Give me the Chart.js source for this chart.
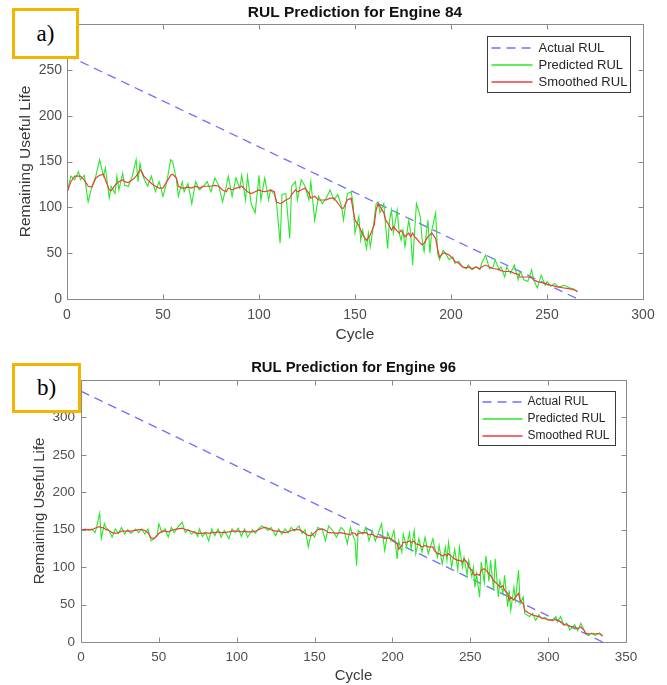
<!DOCTYPE html>
<html>
<head>
<meta charset="utf-8">
<title>RUL Prediction</title>
<script src="https://cdn.jsdelivr.net/npm/chart.js@4.4.1/dist/chart.umd.min.js"></script>
<style>
  html, body { margin: 0; padding: 0; background: #fff; }
  body { width: 667px; height: 685px; position: relative; overflow: hidden; }
  .panel { position: absolute; left: 0; width: 667px; }
  #panelA { top: 0; height: 345px; }
  #panelB { top: 345px; height: 340px; }
  .tag { position: absolute; box-sizing: border-box; border: 3px solid #f4b400; background: #fff;
         font-family: "Liberation Serif", "Times New Roman", serif; font-size: 23px; color: #000;
         display: flex; align-items: center; justify-content: center; }
  #tagA { left: 12px; top: 8px; width: 67px; height: 51px; }
  #tagB { left: 12px; top: 363px; width: 69px; height: 50px; }
</style>
</head>
<body>
<div class="panel" id="panelA"><canvas id="chart84"></canvas></div>
<div class="panel" id="panelB"><canvas id="chart96"></canvas></div>
<div class="tag" id="tagA">a)</div>
<div class="tag" id="tagB">b)</div>
<script>
// engine 84
var cycles84 = [
  0, 2, 4, 6, 7, 9, 11, 13, 15, 17,
  19, 20, 22, 23, 25, 26, 27, 29, 30, 32,
  34, 36, 37, 38, 39, 40, 42, 44, 46, 48,
  50, 52, 54, 55, 57, 58, 60, 61, 63, 65,
  67, 69, 71, 73, 75, 77, 79, 81, 83, 84,
  86, 88, 90, 91, 93, 94, 96, 98, 100, 101,
  103, 105, 106, 108, 109, 111, 112, 114, 116, 117,
  119, 120, 122, 124, 126, 127, 129, 131, 133, 135,
  137, 139, 141, 143, 144, 146, 148, 149, 150, 152,
  153, 154, 156, 157, 158, 160, 161, 162, 163, 165,
  166, 167, 168, 169, 170, 172, 173, 174, 175, 176,
  178, 179, 180, 181, 182, 184, 185, 186, 188, 189,
  190, 192, 193, 194, 196, 197, 199, 201, 202, 204,
  206, 208, 209, 211, 213, 215, 216, 218, 220, 222,
  223, 225, 226, 228, 229, 231, 233, 235, 236, 238,
  240, 242, 243, 245, 247, 249, 250, 252, 254, 256,
  259, 262, 264, 266
];
var predicted84 = [
  116, 134, 130, 139, 130, 135, 106, 123, 134, 152,
  134, 143, 110, 123, 115, 134, 119, 137, 124, 123,
  134, 152, 128, 148, 137, 132, 123, 134, 117, 128,
  112, 128, 152, 150, 130, 112, 128, 117, 126, 104,
  128, 119, 123, 128, 117, 132, 124, 106, 123, 134,
  112, 132, 121, 135, 108, 134, 103, 94, 135, 108,
  132, 108, 119, 114, 108, 61, 114, 115, 66, 123,
  128, 108, 130, 123, 108, 128, 86, 112, 104, 110,
  119, 108, 114, 101, 86, 115, 117, 104, 72, 90,
  64, 75, 55, 72, 57, 86, 104, 106, 94, 104,
  79, 55, 86, 97, 72, 97, 72, 64, 75, 57,
  86, 72, 37, 72, 104, 90, 64, 52, 86, 50,
  75, 94, 50, 43, 53, 50, 43, 46, 39, 41,
  35, 33, 37, 32, 35, 32, 39, 48, 33, 35,
  43, 32, 35, 24, 35, 28, 37, 21, 30, 21,
  19, 32, 21, 12, 26, 15, 19, 14, 17, 13,
  15, 12, 11, 8
];
var smoothed84 = [
  116, 128, 134, 134, 134, 130, 123, 122, 132, 135,
  136, 130, 119, 118, 124, 126, 128, 130, 128, 127,
  130, 134, 137, 141, 139, 134, 130, 126, 123, 121,
  121, 128, 135, 136, 132, 123, 121, 121, 122, 121,
  123, 121, 123, 123, 123, 124, 123, 119, 117, 121,
  119, 121, 122, 123, 119, 117, 115, 117, 119, 118,
  117, 118, 119, 117, 106, 104, 105, 108, 110, 114,
  119, 117, 119, 121, 115, 110, 112, 108, 108, 108,
  110, 110, 105, 99, 99, 108, 110, 97, 86, 80,
  75, 70, 64, 67, 70, 81, 97, 104, 101, 94,
  86, 83, 79, 75, 79, 74, 72, 75, 72, 68,
  72, 68, 72, 68, 66, 61, 59, 61, 68, 70,
  72, 66, 55, 46, 50, 50, 48, 44, 41, 39,
  35, 34, 35, 33, 35, 33, 35, 37, 35, 33,
  33, 32, 31, 30, 30, 30, 28, 27, 24, 24,
  24, 23, 21, 19, 18, 17, 16, 15, 14, 13,
  12, 11, 10, 8
];
var actualCycles84 = [0, 266];
var actual84 = [266, 0];

// engine 96
var cycles96 = [
  0, 3, 5, 7, 9, 10, 12, 13, 15, 16,
  18, 20, 22, 24, 26, 28, 30, 32, 35, 37,
  39, 41, 43, 45, 47, 49, 50, 52, 54, 56,
  58, 60, 62, 65, 67, 69, 71, 73, 75, 76,
  78, 80, 82, 84, 86, 88, 90, 92, 95, 97,
  99, 101, 103, 105, 107, 110, 112, 114, 116, 118,
  120, 122, 125, 127, 129, 131, 133, 135, 137, 140,
  142, 144, 146, 148, 150, 152, 155, 157, 159, 162,
  164, 167, 169, 171, 173, 174, 176, 177, 178, 181,
  183, 185, 187, 189, 191, 193, 195, 197, 199, 201,
  203, 204, 206, 207, 209, 211, 212, 214, 215, 217,
  219, 221, 223, 226, 227, 229, 230, 232, 234, 235,
  236, 238, 240, 242, 243, 245, 246, 248, 249, 251,
  252, 253, 254, 256, 257, 259, 260, 262, 263, 265,
  266, 268, 269, 271, 272, 274, 275, 276, 278, 279,
  281, 282, 284, 285, 288, 290, 292, 294, 296, 298,
  300, 303, 305, 306, 308, 310, 312, 314, 317, 319,
  321, 323, 324, 326, 328, 330, 333, 335
];
var predicted96 = [
  150, 151, 149, 151, 146, 153, 172, 138, 158, 153,
  149, 140, 151, 145, 153, 144, 150, 145, 151, 146,
  151, 144, 151, 135, 138, 144, 158, 146, 151, 140,
  153, 146, 153, 160, 146, 150, 144, 148, 141, 151,
  141, 146, 135, 151, 142, 151, 140, 149, 138, 151,
  146, 152, 141, 151, 140, 150, 145, 151, 155, 153,
  149, 153, 142, 151, 144, 151, 146, 153, 148, 155,
  145, 150, 127, 146, 140, 153, 150, 135, 155, 148,
  140, 153, 149, 131, 153, 146, 135, 102, 149, 144,
  153, 135, 149, 135, 146, 158, 122, 146, 135, 149,
  111, 135, 120, 144, 127, 146, 124, 149, 118, 138,
  120, 140, 118, 138, 127, 113, 129, 104, 127, 109,
  133, 100, 124, 96, 127, 100, 113, 89, 109, 87,
  100, 73, 91, 60, 107, 79, 115, 81, 109, 69,
  111, 60, 82, 65, 89, 47, 69, 42, 73, 56,
  96, 51, 60, 38, 34, 38, 29, 36, 31, 33,
  29, 30, 34, 27, 34, 23, 25, 16, 23, 15,
  25, 16, 12, 9, 12, 9, 12, 8
];
var smoothed96 = [
  150, 150, 150, 150, 152, 153, 154, 153, 152, 150,
  149, 146, 145, 146, 148, 148, 148, 148, 149, 150,
  150, 149, 146, 139, 138, 142, 145, 148, 148, 147,
  149, 150, 151, 152, 150, 149, 148, 146, 145, 145,
  145, 146, 145, 146, 146, 147, 146, 146, 147, 148,
  148, 148, 147, 148, 147, 147, 148, 150, 152, 153,
  152, 150, 148, 148, 147, 146, 147, 149, 150, 150,
  148, 145, 142, 142, 146, 150, 151, 149, 146, 146,
  145, 146, 145, 144, 143, 146, 145, 142, 145, 146,
  146, 143, 144, 141, 140, 140, 138, 139, 138, 135,
  131, 124, 129, 133, 133, 135, 133, 135, 131, 130,
  127, 129, 127, 127, 122, 118, 118, 115, 117, 115,
  118, 114, 111, 109, 109, 107, 111, 106, 100, 96,
  91, 89, 91, 89, 96, 98, 96, 91, 89, 82,
  80, 76, 73, 75, 69, 65, 56, 60, 56, 60,
  65, 56, 51, 42, 38, 36, 35, 34, 32, 31,
  30, 29, 30, 29, 27, 23, 23, 21, 20, 18,
  20, 16, 12, 11, 11, 11, 11, 8
];
var actualCycles96 = [0, 335];
var actual96 = [335, 0];

var sans = '"Liberation Sans", Arial, sans-serif';
var tickColor = '#505050';
var colActual = 'rgb(112,112,255)';
var colPredicted = 'rgb(40,232,40)';
var colSmoothed = 'rgb(240,60,60)';

function points(xs, ys) {
    return xs.map(function (c, i) { return { x: c, y: ys[i] }; });
}

// boxed axes with inward ticks on all four sides, plus the legend box
var axesBox = {
    id: 'axesBox',
    afterDraw: function (chart, args, o) {
        var ctx = chart.ctx, a = chart.chartArea;
        var xs = chart.scales.x, ys = chart.scales.y;
        var l = Math.round(a.left) + 0.5, r = Math.round(a.right) + 0.5;
        var t = Math.round(a.top) + 0.5, b = Math.round(a.bottom) + 0.5;
        ctx.save();
        ctx.strokeStyle = '#8a8a8a';
        ctx.lineWidth = 1;
        ctx.beginPath();
        ctx.rect(l, t, r - l, b - t);
        xs.ticks.forEach(function (tk) {
            var px = Math.round(xs.getPixelForValue(tk.value)) + 0.5;
            ctx.moveTo(px, b); ctx.lineTo(px, b - 5);
            ctx.moveTo(px, t); ctx.lineTo(px, t + 5);
        });
        ys.ticks.forEach(function (tk) {
            var py = Math.round(ys.getPixelForValue(tk.value)) + 0.5;
            ctx.moveTo(l, py); ctx.lineTo(l + 5, py);
            ctx.moveTo(r, py); ctx.lineTo(r - 5, py);
        });
        ctx.stroke();

        // legend
        var bx = Math.round(a.right - o.right - o.w) + 0.5;
        var by = Math.round(a.top + o.top) + 0.5;
        ctx.fillStyle = '#fff';
        ctx.fillRect(bx, by, o.w, o.h);
        ctx.strokeStyle = '#3a3a3a';
        ctx.lineWidth = 1;
        ctx.strokeRect(bx, by, o.w, o.h);
        ctx.font = o.fontSize + 'px ' + sans;
        ctx.textBaseline = 'middle';
        ctx.textAlign = 'left';
        chart.data.datasets.forEach(function (ds, i) {
            var ry = Math.round(by + o.firstRow + i * o.rowGap);
            ctx.setLineDash(ds.borderDash || []);
            ctx.strokeStyle = ds.borderColor;
            ctx.lineWidth = 1.4;
            ctx.beginPath();
            ctx.moveTo(bx + o.lineStart, ry);
            ctx.lineTo(bx + o.lineStart + o.lineLen, ry);
            ctx.stroke();
            ctx.setLineDash([]);
            ctx.fillStyle = '#262626';
            ctx.fillText(ds.label, bx + o.textStart, ry);
        });
        ctx.restore();
    }
};

function rulChart(id, engine, xs, pred, smooth, ax, ay, s) {
    return new Chart(document.getElementById(id), {
        type: 'line',
        data: {
            datasets: [
                { label: 'Actual RUL', data: points(ax, ay), borderColor: colActual,
                  borderDash: [9, 6], borderWidth: 1.3, order: 2 },
                { label: 'Predicted RUL', data: points(xs, pred), borderColor: colPredicted,
                  borderWidth: 1.1, order: 1 },
                { label: 'Smoothed RUL', data: points(xs, smooth), borderColor: colSmoothed,
                  borderWidth: 1.2, order: 0 }
            ]
        },
        plugins: [axesBox],
        options: {
            responsive: true,
            maintainAspectRatio: false,
            animation: false,
            elements: { point: { radius: 0 }, line: { tension: 0, fill: false } },
            layout: { padding: { left: 0, right: s.padRight, top: 0, bottom: 0 } },
            plugins: {
                legend: { display: false },
                tooltip: { enabled: false },
                title: {
                    display: true,
                    fullSize: false,
                    text: 'RUL Prediction for Engine ' + engine,
                    color: '#111',
                    font: { family: sans, size: s.titleSize, weight: 'bold' },
                    padding: { top: s.titleTop, bottom: s.titleBottom }
                },
                axesBox: s.legend
            },
            scales: {
                x: {
                    type: 'linear',
                    min: 0, max: s.xMax,
                    grid: { display: false, drawTicks: false },
                    border: { display: false },
                    ticks: { stepSize: 50, color: tickColor, padding: s.xTickPad,
                             font: { family: sans, size: s.tickSize } },
                    title: { display: true, text: 'Cycle', color: '#3a3a3a',
                             font: { family: sans, size: s.labelSize },
                             padding: { top: 0, bottom: s.xTitlePad } },
                    afterFit: function (sc) { sc.height = s.xHeight; }
                },
                y: {
                    min: 0, max: s.yMax,
                    grid: { display: false, drawTicks: false },
                    border: { display: false },
                    ticks: { stepSize: 50, color: tickColor, padding: s.yTickPad,
                             font: { family: sans, size: s.tickSize } },
                    title: { display: true, text: 'Remaining Useful Life', color: '#3a3a3a',
                             font: { family: sans, size: s.labelSize },
                             padding: { top: s.yTitlePad, bottom: 0 } },
                    afterFit: function (sc) { sc.width = s.yWidth; }
                }
            }
        }
    });
}

rulChart('chart84', 84, cycles84, predicted84, smoothed84, actualCycles84, actual84, {
    xMax: 300, yMax: 300, padRight: 24, yWidth: 67, xHeight: 46,
    titleSize: 15.5, titleTop: 3.7, titleBottom: 1.7,
    tickSize: 14, labelSize: 15.5, xTickPad: 7.6, yTickPad: 5, xTitlePad: 1, yTitlePad: 16.7,
    legend: { right: 13, top: 12, w: 143, h: 56, firstRow: 11, rowGap: 17,
              lineStart: 4, lineLen: 41, textStart: 51, fontSize: 13 }
});

rulChart('chart96', 96, cycles96, predicted96, smoothed96, actualCycles96, actual96, {
    xMax: 350, yMax: 350, padRight: 41, yWidth: 81, xHeight: 43,
    titleSize: 14.8, titleTop: 14.1, titleBottom: 3.1,
    tickSize: 13.5, labelSize: 15, xTickPad: 6.9, yTickPad: 6, xTitlePad: 0, yTitlePad: 31,
    legend: { right: 11, top: 11, w: 137, h: 54, firstRow: 10, rowGap: 17,
              lineStart: 4, lineLen: 40, textStart: 49, fontSize: 12 }
});
</script>
</body>
</html>
